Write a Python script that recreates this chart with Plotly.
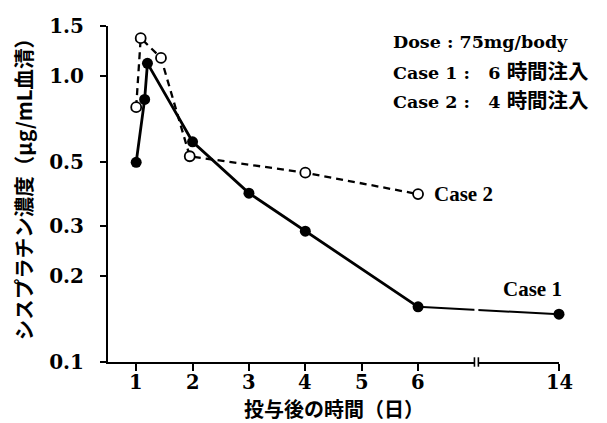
import numpy as np
import plotly.graph_objects as go

# ---- data (days after dosing, concentration µg/mL serum) ----
case1_days = [1.0, 1.15, 1.2, 2.0, 3.0, 4.0, 6.0, 14.0]
case1_conc = [0.50, 0.83, 1.11, 0.59, 0.39, 0.287, 0.156, 0.147]
case2_days = [1.0, 1.08, 1.44, 1.95, 4.0, 6.0]
case2_conc = [0.78, 1.36, 1.16, 0.525, 0.46, 0.387]
x_tick_days = [1, 2, 3, 4, 5, 6, 14]
y_tick_vals = [0.1, 0.2, 0.3, 0.5, 1.0, 1.5]
y_tick_text = ["0.1", "0.2", "0.3", "0.5", "1.0", "1.5"]

# broken x axis: days beyond 6 are compressed (14 -> 8.5)
BREAK_AT = 6.0
COMPRESS = 2.5 / 8.0
def xmap(d):
    d = np.asarray(d, dtype=float)
    return np.where(d <= BREAK_AT, d, BREAK_AT + (d - BREAK_AT) * COMPRESS)

SER = "DejaVu Serif, Noto Sans CJK JP, serif"
TIMES = "Liberation Serif, Noto Sans CJK JP, serif"
JP = "Noto Sans CJK JP, Liberation Serif, serif"

c1x = xmap(case1_days)
fig = go.Figure()
# Case 2 (dashed, open circles)
fig.add_trace(go.Scatter(
    x=xmap(case2_days), y=case2_conc, mode="lines+markers",
    line=dict(color="black", width=2.3, dash="7px,5px"),
    marker=dict(symbol="circle", size=10, color="white",
                line=dict(color="black", width=1.8)),
    cliponaxis=False, showlegend=False))
# Case 1 (solid, filled)
n6 = sum(1 for d in case1_days if d <= BREAK_AT)
fig.add_trace(go.Scatter(
    x=c1x[:n6], y=case1_conc[:n6], mode="lines",
    line=dict(color="black", width=2.8),
    cliponaxis=False, showlegend=False))
fig.add_trace(go.Scatter(
    x=c1x[n6 - 1:], y=case1_conc[n6 - 1:], mode="lines",
    line=dict(color="black", width=2.0),
    cliponaxis=False, showlegend=False))
fig.add_trace(go.Scatter(
    x=c1x, y=case1_conc, mode="markers",
    marker=dict(symbol="circle", size=11, color="black"),
    cliponaxis=False, showlegend=False))

bx0, bx1 = 7.0, 7.07
shapes = [
    dict(type="rect", xref="x", yref="paper", x0=bx0, x1=bx1, y0=-0.03, y1=0.25,
         fillcolor="white", line=dict(width=0), layer="above"),
    dict(type="line", xref="x", yref="paper", x0=bx0, x1=bx0, y0=-0.014, y1=0.014,
         line=dict(color="black", width=1.6), layer="above"),
    dict(type="line", xref="x", yref="paper", x0=bx1, x1=bx1, y0=-0.014, y1=0.014,
         line=dict(color="black", width=1.6), layer="above"),
]

NB = "\u00a0"
ann = []
# x tick labels (broken axis: label text from the day values)
for d, xv in zip(x_tick_days, xmap(x_tick_days)):
    ann.append(dict(text="<b>%d</b>" % d, xref="x", yref="paper", x=float(xv), y=0,
                    xanchor="center", yanchor="middle", yshift=-20, showarrow=False,
                    font=dict(family=SER, size=19.5, color="black")))
ann.append(dict(text="<b>シスプラチン濃度（μg/mL血清）</b>", xref="paper", yref="paper",
                x=-0.188, y=0.53, xanchor="center", yanchor="middle",
                textangle=-90, showarrow=False,
                font=dict(family=JP, size=20.5, color="black")))
ann.append(dict(text="<b>投与後の時間（日）</b>", xref="paper", yref="paper",
                x=0.5, y=-0.138, showarrow=False, xanchor="center", yanchor="middle",
                font=dict(family=JP, size=20, color="black")))
legend_lines = [
    ("Dose : 75mg/body", ""),
    ("Case 1 :" + NB * 3 + "6" + NB, "時間注入"),
    ("Case 2 :" + NB * 3 + "4" + NB, "時間注入"),
]
for (lat, jp), yp in zip(legend_lines, [0.951, 0.862, 0.776]):
    txt = "<b>" + lat + "</b>"
    if jp:
        txt += "<b><span style='font-size:20.5px'>" + jp + "</span></b>"
    ann.append(dict(text=txt, xref="paper", yref="paper",
                    x=0.627, y=yp, xanchor="left", yanchor="middle", showarrow=False,
                    font=dict(family=SER, size=17.5, color="black")))
ann.append(dict(text="<b>Case 2</b>", xref="x", yref="y",
                x=float(xmap(case2_days[-1])), y=float(np.log10(case2_conc[-1])),
                xanchor="left", yanchor="middle", xshift=14, showarrow=False,
                font=dict(family=TIMES, size=21, color="black")))
ann.append(dict(text="<b>Case 1</b>", xref="x", yref="y",
                x=float(c1x[-1]), y=float(np.log10(case1_conc[-1])),
                xanchor="right", yanchor="middle", xshift=5, yshift=25, showarrow=False,
                font=dict(family=TIMES, size=21, color="black")))

fig.update_layout(
    width=599, height=415,
    margin=dict(l=100, r=48, t=18, b=61),
    paper_bgcolor="white", plot_bgcolor="white",
    shapes=shapes, annotations=ann,
    xaxis=dict(range=[0.5, 8.5], tickvals=list(xmap(x_tick_days)),
               showticklabels=False,
               showline=True, linecolor="black", linewidth=2,
               ticks="outside", ticklen=7, tickwidth=2, tickcolor="black",
               showgrid=False, zeroline=False, automargin=False),
    yaxis=dict(type="log", range=[-1, float(np.log10(1.5))],
               tickvals=y_tick_vals, ticktext=y_tick_text,
               showline=True, linecolor="black", linewidth=2,
               ticks="outside", ticklen=6, tickwidth=2, tickcolor="black",
               ticklabelstandoff=12, automargin=False,
               showgrid=False, zeroline=False,
               tickfont=dict(family=SER, size=20, color="black", weight="bold")),
)
fig.write_html("out.html")
